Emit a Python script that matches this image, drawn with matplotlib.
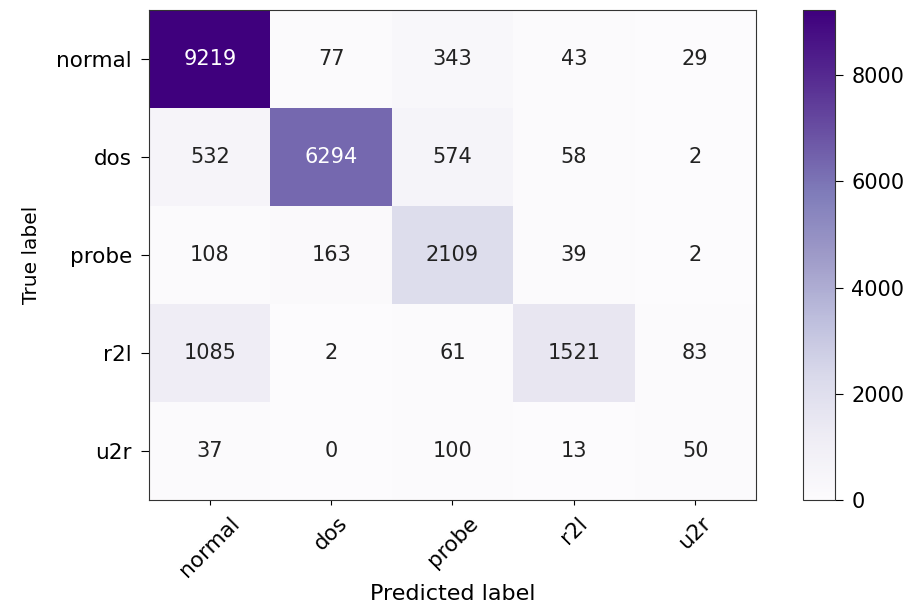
import numpy as np
import matplotlib
matplotlib.use("Agg")
import matplotlib.pyplot as plt

classes = ["normal", "dos", "probe", "r2l", "u2r"]
cm_normal = [9219, 77, 343, 43, 29]
cm_dos = [532, 6294, 574, 58, 2]
cm_probe = [108, 163, 2109, 39, 2]
cm_r2l = [1085, 2, 61, 1521, 83]
cm_u2r = [37, 0, 100, 13, 50]

cm = np.array([cm_normal, cm_dos, cm_probe, cm_r2l, cm_u2r])

fig = plt.figure(figsize=(9.15, 6.04), dpi=100)
ax = fig.add_axes([0.163, 0.172, 0.663, 0.811])
cax = fig.add_axes([0.878, 0.172, 0.035, 0.811])

im = ax.imshow(cm, interpolation="nearest", cmap=plt.cm.Purples, aspect="auto")
cb = fig.colorbar(im, cax=cax)
cb.ax.tick_params(labelsize=15, length=5.5, pad=6)
cb.outline.set_edgecolor("#333333")

ticks = np.arange(len(classes))
ax.set_xticks(ticks)
ax.set_xticklabels(classes, rotation=45, fontsize=15.5)
ax.set_yticks(ticks)
ax.set_yticklabels(classes, fontsize=15.5)
ax.tick_params(axis="y", length=5.5, pad=7)
ax.tick_params(axis="x", pad=6)
for sp in ax.spines.values():
    sp.set_edgecolor("#333333")

thresh = cm.max() / 2.
for i in range(cm.shape[0]):
    for j in range(cm.shape[1]):
        ax.text(j, i, format(cm[i, j], "d"),
                ha="center", va="center", fontsize=15,
                color="white" if cm[i, j] > thresh else "#222222")

ax.set_ylabel("True label", fontsize=14.5, labelpad=11)
ax.set_xlabel("Predicted label", fontsize=16, labelpad=2)

fig.savefig("out.png", dpi=100)
